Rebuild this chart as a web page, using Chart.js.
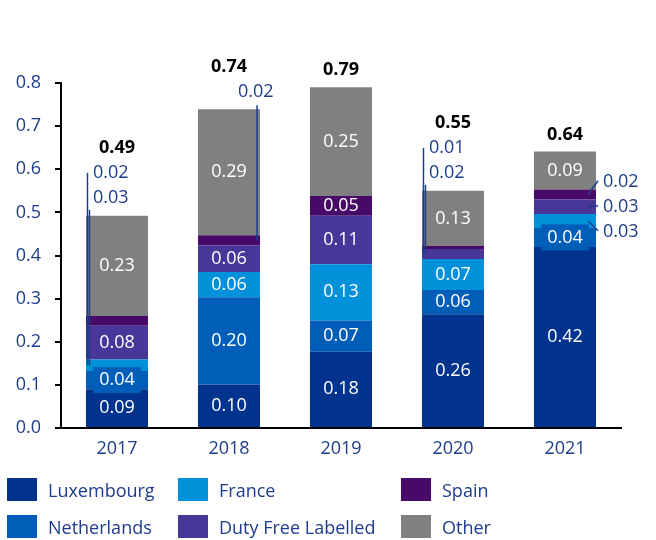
<!DOCTYPE html>
<html>
<head>
<meta charset="utf-8">
<script src="https://cdn.jsdelivr.net/npm/chart.js@4.4.1/dist/chart.umd.min.js"></script>
<style>
  body { margin: 0; background: #fff; }
  #wrap { position: relative; width: 656px; height: 540px; }
  #legend {
    position: absolute; left: 7px; top: 478px;
    display: grid; grid-template-columns: 171px 223px 200px; row-gap: 14px;
    font-family: 'Open Sans', sans-serif; font-size: 18px; color: #1E3C8C;
  }
  .item { display: flex; align-items: center; height: 23px; white-space: nowrap; }
  .box { width: 30px; height: 23px; margin-right: 11px; }
</style>
</head>
<body>
<div id="wrap">
  <canvas id="chart" width="656" height="540"></canvas>
  <div id="legend"></div>
</div>
<script>
// dane
const years = ['2017', '2018', '2019', '2020', '2021'];
const luxembourg  = [0.090, 0.101, 0.177, 0.264, 0.420];
const netherlands = [0.042, 0.202, 0.072, 0.056, 0.044];
const france      = [0.027, 0.059, 0.131, 0.072, 0.032];
const dutyFree    = [0.078, 0.062, 0.112, 0.023, 0.034];
const spain       = [0.023, 0.023, 0.046, 0.007, 0.023];
const other       = [0.232, 0.292, 0.252, 0.128, 0.088];
const yTicks = [0, 0.1, 0.2, 0.3, 0.4, 0.5, 0.6, 0.7, 0.8];

// small segments labelled outside the bar (dataset index, top to bottom)
const callouts = [
  { year: 0, sets: [4, 2], side: 'top' },
  { year: 1, sets: [4], side: 'topRight' },
  { year: 3, sets: [4, 3], side: 'top' },
  { year: 4, sets: [4, 3, 2], side: 'right' }
];

const legendOrder = [0, 2, 4, 1, 3, 5];
const textBlue = '#1E3C8C';
const fontFam = "'Open Sans', sans-serif";

const data = {
  labels: years,
  datasets: [
    { label: 'Luxembourg', data: luxembourg, backgroundColor: '#00338D' },
    { label: 'Netherlands', data: netherlands, backgroundColor: '#005EB8' },
    { label: 'France', data: france, backgroundColor: '#0091DA' },
    { label: 'Duty Free Labelled', data: dutyFree, backgroundColor: '#483698' },
    { label: 'Spain', data: spain, backgroundColor: '#470A68' },
    { label: 'Other', data: other, backgroundColor: '#808080' }
  ]
};
data.datasets.forEach(ds => {
  ds.barPercentage = 0.554;
  ds.categoryPercentage = 1;
});

// etykiety w słupkach, odnośniki i sumy
const labelPlugin = {
  id: 'barLabels',
  afterDatasetsDraw(chart) {
    const ctx = chart.ctx;
    const sets = chart.data.datasets;
    ctx.save();
    ctx.textBaseline = 'middle';
    ctx.font = '18px ' + fontFam;
    for (let j = 0; j < years.length; j++) {
      const co = callouts.find(c => c.year === j);
      const skip = co ? co.sets : [];
      sets.forEach((ds, i) => {
        if (skip.includes(i)) return;
        const bar = chart.getDatasetMeta(i).data[j];
        const txt = ds.data[j].toFixed(2);
        const cy = (bar.y + bar.base) / 2;
        const h = bar.base - bar.y;
        const w = ctx.measureText(txt).width;
        // niski segment -> etykieta z tłem w kolorze segmentu
        if (h < 19.4) {
          ctx.fillStyle = ds.backgroundColor;
          ctx.fillRect(bar.x - w / 2 - 6, cy - 13, w + 12, 26);
        }
        ctx.fillStyle = '#fff';
        ctx.textAlign = 'center';
        ctx.fillText(txt, bar.x, cy);
      });

      const topBar = chart.getDatasetMeta(sets.length - 1).data[j];
      const topY = topBar.y;
      const left = topBar.x - topBar.width / 2;
      const right = topBar.x + topBar.width / 2;
      let totalY = topY - 17;

      if (co) {
        const segs = co.sets.map(i => chart.getDatasetMeta(i).data[j]);
        const mid = s => (s.y + s.base) / 2;
        const nn = co.sets.length;
        ctx.strokeStyle = textBlue;
        ctx.lineWidth = 1.5;
        ctx.fillStyle = textBlue;
        ctx.textAlign = 'left';
        co.sets.forEach((i, k) => {
          const txt = sets[i].data[j].toFixed(2);
          let ly, x1, y1, x2, y2, tx;
          if (co.side === 'top') {
            ly = topY - 18 - 25 * (nn - 1 - k);
            tx = left + 7;
            x1 = x2 = left + 1.5 + 2 * k;
            y1 = ly + 12 * k;
            y2 = mid(segs[nn - 1]);
          } else if (co.side === 'topRight') {
            ly = topY - 17;
            tx = topBar.x + 9;
            x1 = x2 = right - 3;
            y1 = topY - 4;
            y2 = mid(segs[k]);
          } else {
            ly = mid(segs[Math.floor(nn / 2)]) + 25 * (k - (nn - 1) / 2);
            tx = right + 7;
            x1 = right - 8; y1 = mid(segs[k]);
            x2 = right + 2; y2 = ly - 1;
          }
          ctx.beginPath();
          ctx.moveTo(x1, y1);
          ctx.lineTo(x2, y2);
          ctx.stroke();
          ctx.fillText(txt, tx, ly);
        });
        if (co.side === 'top') totalY = topY - 18 - 25 * nn;
        if (co.side === 'topRight') totalY = topY - 42;
      }

      const total = sets.reduce((s, ds) => s + ds.data[j], 0);
      ctx.font = 'bold 18px ' + fontFam;
      ctx.fillStyle = '#000';
      ctx.textAlign = 'center';
      ctx.fillText(total.toFixed(2), topBar.x, totalY);
      ctx.font = '18px ' + fontFam;
    }
    ctx.restore();
  }
};

const config = {
  type: 'bar',
  data: data,
  plugins: [labelPlugin],
  options: {
    responsive: false,
    animation: false,
    layout: { padding: { top: 83, right: 35, bottom: 72, left: 0 } },
    plugins: { legend: { display: false }, tooltip: { enabled: false } },
    scales: {
      x: {
        stacked: true,
        grid: { display: false, drawTicks: false },
        border: { color: '#000', width: 2 },
        ticks: { color: textBlue, font: { size: 18, family: fontFam }, padding: 10 },
        afterFit(scale) { scale.height = 40; }
      },
      y: {
        stacked: true,
        min: yTicks[0],
        max: yTicks[yTicks.length - 1],
        afterBuildTicks(scale) { scale.ticks = yTicks.map(v => ({ value: v })); },
        ticks: { color: textBlue, font: { size: 18, family: fontFam }, padding: 14,
                 callback: v => v.toFixed(1) },
        grid: { drawOnChartArea: false, tickLength: 6, color: '#000', lineWidth: 2 },
        border: { color: '#000', width: 2 },
        afterFit(scale) { scale.width = 61; }
      }
    }
  }
};

const ctx = document.getElementById('chart');
const myChart = new Chart(ctx, config);

// legenda w trzech kolumnach
const legend = document.getElementById('legend');
legendOrder.forEach(i => {
  const ds = data.datasets[i];
  const item = document.createElement('div');
  item.className = 'item';
  const box = document.createElement('span');
  box.className = 'box';
  box.style.background = ds.backgroundColor;
  const txt = document.createElement('span');
  txt.textContent = ds.label;
  item.appendChild(box);
  item.appendChild(txt);
  legend.appendChild(item);
});
</script>
</body>
</html>
